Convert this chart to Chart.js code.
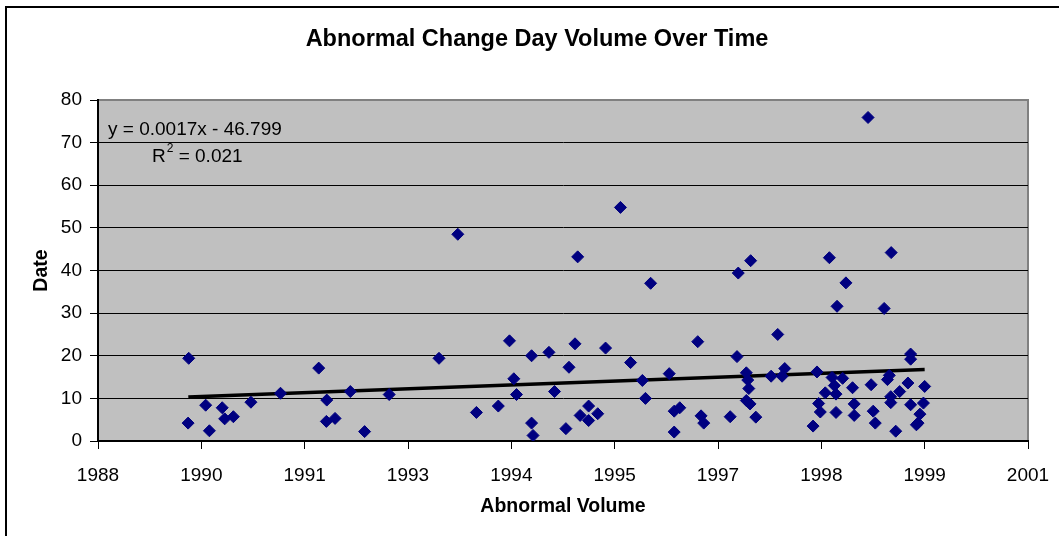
<!DOCTYPE html>
<html>
<head>
<meta charset="utf-8">
<script src="https://cdn.jsdelivr.net/npm/chart.js@4.4.1/dist/chart.umd.min.js"></script>
<style>
  html, body { margin: 0; padding: 0; background: #fff; overflow: hidden; }
  #wrap { position: relative; width: 1059px; height: 536px; }
  #frame { position: absolute; left: 5px; top: 6px; width: 1200px; height: 700px; border: 2px solid #000; pointer-events: none; }
  canvas { position: absolute; left: 0; top: 0; }
</style>
</head>
<body>
<div id="wrap">
  <canvas id="c" width="1059" height="536"></canvas>
  <div id="frame"></div>
</div>
<script>
// Excel date serials (x)
const dates = [32939, 33021, 32936, 33039, 33101, 33113, 33155, 33240, 33383, 33568,
  33607, 33605, 33647, 33721, 33790, 33909, 34150, 34241, 34331, 34437,
  34491, 34512, 34525, 34598, 34682, 34709, 34598, 34605, 34764, 34779,
  34808, 34821, 34833, 34874, 34874, 34918, 34956, 35028, 35077, 35134,
  35149, 35174, 35264, 35288, 35315, 35288, 35402, 35418, 35431, 35559,
  35592, 35598, 35637, 35644, 35649, 35637, 35655, 35658, 35683, 35789,
  35757, 35810, 35823, 35960, 35979, 35987, 35995, 36019, 36052, 36063,
  36071, 36071, 36103, 36039, 36076, 36119, 36151, 36159, 36159, 36241,
  36251, 36261, 36320, 36329, 36336, 36336, 36360, 36379, 36419, 36432,
  36432, 36432, 36494, 36500, 36477, 36468, 36460, 36226, 36338, 36304];
// Values (y)
const values = [19.4, 8.4, 4.2, 2.4, 7.8, 5.2, 5.7, 9.1, 11.2, 17.1,
  9.6, 4.6, 5.3, 11.6, 2.2, 10.9, 19.4, 48.5, 6.7, 8.2,
  23.5, 14.6, 10.9, 20.0, 20.8, 11.6, 4.2, 1.3, 2.9, 17.3,
  22.8, 43.2, 6.0, 8.2, 4.8, 6.4, 21.8, 54.8, 18.4, 14.2,
  10.0, 37.0, 15.8, 7.0, 7.8, 2.1, 23.3, 5.9, 4.2, 5.7,
  19.8, 39.4, 16.0, 14.3, 12.3, 9.5, 8.7, 42.3, 5.6, 25.0,
  15.2, 15.2, 17.0, 3.5, 16.2, 8.8, 6.8, 11.3, 14.9, 13.0,
  11.0, 6.7, 14.7, 43.0, 31.6, 37.1, 12.5, 8.7, 6.0, 13.2,
  7.0, 4.2, 14.4, 15.4, 10.4, 9.0, 2.3, 11.6, 13.6, 20.4,
  19.2, 8.5, 8.9, 12.8, 6.3, 4.2, 3.8, 75.9, 44.2, 31.1];
// Linear trendline end points
const trendX = [32937, 36500];
const trendY = [10.3, 16.8];
const trendLabel = ['y = 0.0017x - 46.799', '= 0.021'];
const chartTitle = 'Abnormal Change Day Volume Over Time';
// Axis tick labels
const xTickLabels = ['1988', '1990', '1991', '1993', '1994', '1995', '1997', '1998', '1999', '2001'];
const yTickLabels = ['0', '10', '20', '30', '40', '50', '60', '70', '80'];

const FONT = '"Liberation Sans", Arial, Helvetica, sans-serif';

const scatterData = dates.map((d, i) => ({ x: d, y: values[i] }));
const trendData = trendX.map((d, i) => ({ x: d, y: trendY[i] }));

const plotBg = {
  id: 'plotBg',
  beforeDraw(chart) {
    const { ctx, chartArea: a } = chart;
    ctx.save();
    ctx.fillStyle = '#C0C0C0';
    ctx.fillRect(a.left, a.top, a.right - a.left, a.bottom - a.top);
    ctx.strokeStyle = '#808080';
    ctx.lineWidth = 2;
    ctx.beginPath();
    ctx.moveTo(a.left, a.top);
    ctx.lineTo(a.right, a.top);
    ctx.lineTo(a.right, a.bottom);
    ctx.stroke();
    ctx.restore();
  },
  afterDraw(chart) {
    const { ctx, chartArea: a } = chart;
    ctx.save();
    ctx.fillStyle = '#000';
    ctx.textBaseline = 'middle';
    // Chart title (centred on the full Excel chart object, which extends past the right edge)
    ctx.textAlign = 'center';
    ctx.font = 'bold 23.5px ' + FONT;
    ctx.fillText(chartTitle, 537, 40);
    // Trendline equation
    ctx.textAlign = 'left';
    ctx.font = '19px ' + FONT;
    ctx.fillText(trendLabel[0], a.left + 10, a.top + 30);
    const rx = a.left + 54, ry = a.top + 57;
    ctx.fillText('R', rx, ry);
    const rw = ctx.measureText('R').width;
    ctx.font = '12px ' + FONT;
    ctx.fillText('2', rx + rw + 1, ry - 8);
    const sw = ctx.measureText('2').width;
    ctx.font = '19px ' + FONT;
    ctx.fillText(' ' + trendLabel[1], rx + rw + 1 + sw, ry);
    ctx.restore();
  }
};

new Chart(document.getElementById('c'), {
  type: 'scatter',
  data: {
    datasets: [
      {
        label: 'Data',
        data: scatterData,
        pointStyle: 'rectRot',
        pointRadius: 6,
        pointHoverRadius: 6,
        backgroundColor: '#000080',
        borderColor: '#000080',
        borderWidth: 1
      },
      {
        type: 'line',
        label: 'Trend',
        data: trendData,
        showLine: true,
        borderColor: '#000',
        borderWidth: 3.5,
        pointRadius: 0,
        fill: false
      }
    ]
  },
  plugins: [plotBg],
  options: {
    responsive: false,
    animation: false,
    devicePixelRatio: 1,
    layout: { padding: { left: 0, right: 31, top: 100, bottom: 0 } },
    plugins: {
      legend: { display: false },
      tooltip: { enabled: false },
      title: { display: false }
    },
    scales: {
      x: {
        type: 'linear',
        min: 32500,
        max: 37000,
        afterFit(scale) { scale.height = 95; scale.paddingLeft = 0; scale.paddingRight = 0; },
        afterBuildTicks(scale) {
          scale.ticks = xTickLabels.map((_, i) => ({ value: 32500 + i * 500 }));
        },
        ticks: {
          color: '#000',
          font: { family: FONT, size: 19 },
          padding: 15,
          maxRotation: 0,
          autoSkip: false,
          callback: (v, i) => xTickLabels[i]
        },
        grid: { drawOnChartArea: false, drawTicks: true, tickLength: 8, tickColor: '#000', tickWidth: 1 },
        border: { display: true, color: '#000', width: 2 },
        title: {
          display: true,
          text: 'Abnormal Volume',
          color: '#000',
          font: { family: FONT, size: 19.5, weight: 'bold' },
          padding: { top: 0, bottom: 18 }
        }
      },
      y: {
        min: 0,
        max: 80,
        afterFit(scale) { scale.width = 98; scale.paddingTop = 0; scale.paddingBottom = 0; },
        afterBuildTicks(scale) {
          scale.ticks = yTickLabels.map((_, i) => ({ value: i * 10 }));
        },
        ticks: {
          color: '#000',
          font: { family: FONT, size: 19 },
          padding: 8,
          autoSkip: false,
          callback: (v, i) => yTickLabels[i]
        },
        grid: {
          drawOnChartArea: true,
          drawTicks: true,
          tickLength: 8,
          tickColor: '#000',
          lineWidth: 1,
          color: (ctx) => (ctx.tick && ctx.tick.value === 80 ? '#808080' : (ctx.tick && ctx.tick.value === 0 ? 'rgba(0,0,0,0)' : '#000'))
        },
        border: { display: true, color: '#000', width: 2 },
        title: {
          display: true,
          text: 'Date',
          color: '#000',
          font: { family: FONT, size: 19.5, weight: 'bold' },
          padding: { top: 30, bottom: 0 }
        }
      }
    }
  }
});
</script>
</body>
</html>
